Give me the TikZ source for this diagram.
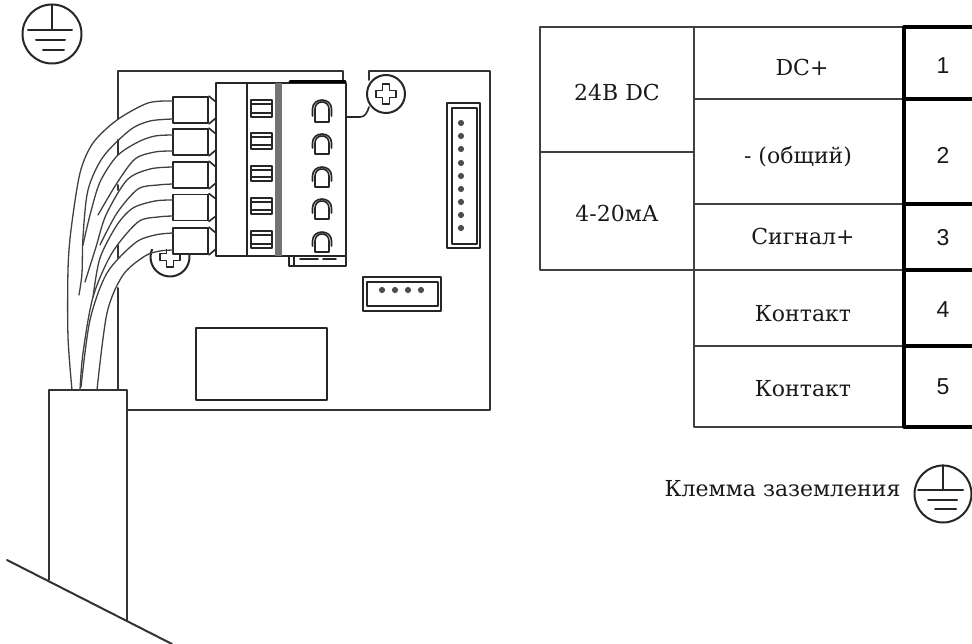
\documentclass[tikz,border=0pt]{standalone}
\usepackage{fontspec}
\setmainfont{DejaVu Serif}
\newfontfamily\numfont{Liberation Sans}
\usetikzlibrary{calc}

\begin{document}
\begin{tikzpicture}[x=1pt, y=-1pt, line cap=round, line join=round]
	\useasboundingbox (0,0) rectangle (972,644);
	\tikzset{
		part/.style={draw=black!85, line width=1.6pt},
		boardline/.style={draw=black!80, line width=2pt},
		wire/.style={draw=black!75, line width=1.3pt},
		thin cell/.style={draw=black!75, line width=1.8pt},
		thick cell/.style={draw=black, line width=3.2pt},
		plug/.style={draw=black!85, line width=1.8pt, fill=white, minimum width=35pt, minimum height=26pt, inner sep=0pt},
		pin/.style={circle, fill=black!70, inner sep=2.2pt},
		lab/.style={text=black!90, font=\fontsize{22}{24}\selectfont},
		numlab/.style={text=black!90, font=\fontsize{23}{26}\selectfont\numfont}
	}

	% --- coordinates of the round parts
	\coordinate (G1) at (52,34);
	\coordinate (G2) at (943,494);
	\coordinate (T1) at (386,94);
	\coordinate (T2) at (170,257);

	\coordinate (D1) at (322,122);
	\coordinate (D2) at (322,154);
	\coordinate (D3) at (322,187);
	\coordinate (D4) at (322,219);
	\coordinate (D5) at (322,252);

	% --- wire ends on the plugs
	\coordinate (W1) at (173,101);
	\coordinate (W2) at (173,119);
	\coordinate (W3) at (173,135);
	\coordinate (W4) at (173,151);
	\coordinate (W5) at (173,167);
	\coordinate (W6) at (173,184);
	\coordinate (W7) at (173,200);
	\coordinate (W8) at (173,216);
	\coordinate (W9) at (173,233);
	\coordinate (W10) at (173,250);

	% --- board outline
	\draw[boardline] (343,82) -- (343,71) -- (118,71) -- (118,119);
	\draw[boardline] (118,140) -- (118,155);
	\draw[boardline] (118,185) -- (118,190);
	\draw[boardline] (118,245) -- (118,258);
	\draw[boardline] (118,288) -- (118,390);
	\draw[boardline] (369,80) -- (369,71) -- (490,71) -- (490,410) -- (128,410);

	% --- lower screw, only its lower part shows
	\begin{scope}
		\clip (140,250) rectangle (200,285);
		\draw[part, line width=2pt] (T2) circle [radius=19.5];
		\draw[part] ($(T2)+(-3.5,-10)$) -- ++(7,0) -- ++(0,6.5) -- ++(6.5,0) -- ++(0,7) -- ++(-6.5,0) -- ++(0,6.5) -- ++(-7,0) -- ++(0,-6.5) -- ++(-6.5,0) -- ++(0,-7) -- ++(6.5,0) -- cycle;
	\end{scope}

	% --- upper screw and its lead
	\draw[part] (346,117) -- (360,117) .. controls (365,117) and (367,113) .. (369,107);
	\draw[part, line width=2pt, fill=white] (T1) circle [radius=19];
	\draw[part] ($(T1)+(-3.5,-10)$) -- ++(7,0) -- ++(0,6.5) -- ++(6.5,0) -- ++(0,7) -- ++(-6.5,0) -- ++(0,6.5) -- ++(-7,0) -- ++(0,-6.5) -- ++(-6.5,0) -- ++(0,-7) -- ++(6.5,0) -- cycle;

	% --- terminal block
	\draw[part, line width=2pt] (216,83) rectangle (346,256);
	\draw[part, line width=2pt] (247,83) -- (247,256);
	\fill[black!55] (275,83) rectangle (282,256);
	\draw[black, line width=3pt] (290,82) -- (345,82);

	\node[plug] (P1) at (190.5,110) {};
	\node[plug] (P2) at (190.5,142) {};
	\node[plug] (P3) at (190.5,175) {};
	\node[plug] (P4) at (190.5,207.5) {};
	\node[plug] (P5) at (190.5,241) {};

	\draw[part] (P1.north east) -- (216,102) (P1.south east) -- (216,118);
	\draw[part] (P2.north east) -- (216,134) (P2.south east) -- (216,150);
	\draw[part] (P3.north east) -- (216,167) (P3.south east) -- (216,183);
	\draw[part] (P4.north east) -- (216,199) (P4.south east) -- (216,216);
	\draw[part] (P5.north east) -- (216,233) (P5.south east) -- (216,249);

	% --- slots
	\draw[part] (251,100) rectangle (272,117) (251,104) -- (272,104) (251,113) -- (272,113);
	\draw[part] (251,133) rectangle (272,149) (251,137) -- (272,137) (251,145) -- (272,145);
	\draw[part] (251,166) rectangle (272,181) (251,170) -- (272,170) (251,177) -- (272,177);
	\draw[part] (251,198) rectangle (272,214) (251,202) -- (272,202) (251,210) -- (272,210);
	\draw[part] (251,231) rectangle (272,248) (251,235) -- (272,235) (251,244) -- (272,244);

	% --- domes
	\draw[part] ($(D1)+(-7,0)$) -- ++(0,-13) .. controls +(0,-9.3) and +(0,-9.3) .. ++(14,0) -- ++(0,13) -- cycle ($(D1)+(-9.5,-6)$) -- ++(0,-7) .. controls +(0,-12) and +(0,-12) .. ++(19,0) -- ++(0,7);
	\draw[part] ($(D2)+(-7,0)$) -- ++(0,-11) .. controls +(0,-9.3) and +(0,-9.3) .. ++(14,0) -- ++(0,11) -- cycle ($(D2)+(-9.5,-6)$) -- ++(0,-5) .. controls +(0,-12) and +(0,-12) .. ++(19,0) -- ++(0,5);
	\draw[part] ($(D3)+(-7,0)$) -- ++(0,-11) .. controls +(0,-9.3) and +(0,-9.3) .. ++(14,0) -- ++(0,11) -- cycle ($(D3)+(-9.5,-6)$) -- ++(0,-5) .. controls +(0,-12) and +(0,-12) .. ++(19,0) -- ++(0,5);
	\draw[part] ($(D4)+(-7,0)$) -- ++(0,-11) .. controls +(0,-9.3) and +(0,-9.3) .. ++(14,0) -- ++(0,11) -- cycle ($(D4)+(-9.5,-6)$) -- ++(0,-5) .. controls +(0,-12) and +(0,-12) .. ++(19,0) -- ++(0,5);
	\draw[part] ($(D5)+(-7,0)$) -- ++(0,-11) .. controls +(0,-9.3) and +(0,-9.3) .. ++(14,0) -- ++(0,11) -- cycle ($(D5)+(-9.5,-6)$) -- ++(0,-5) .. controls +(0,-12) and +(0,-12) .. ++(19,0) -- ++(0,5);

	% --- strip under the block
	\draw[part] (289,256) rectangle (346,266);
	\draw[part] (294,256) -- (294,266);
	\draw[part] (300,259) -- (318,259) (323,259) -- (336,259);

	% --- long connector
	\draw[part, line width=2pt] (447,103) rectangle (480,248);
	\draw[part] (452,108) rectangle (477,244);
	\node[pin] (a1) at (461,123) {};
	\node[pin] (a2) at (461,136) {};
	\node[pin] (a3) at (461,149) {};
	\node[pin] (a4) at (461,163) {};
	\node[pin] (a5) at (461,176) {};
	\node[pin] (a6) at (461,189) {};
	\node[pin] (a7) at (461,202) {};
	\node[pin] (a8) at (461,215) {};
	\node[pin] (a9) at (461,228) {};

	% --- short connector
	\draw[part, line width=2pt] (363,277) rectangle (441,311);
	\draw[part] (367,282) rectangle (438,306);
	\node[pin] (b1) at (382,290) {};
	\node[pin] (b2) at (395,290) {};
	\node[pin] (b3) at (408,290) {};
	\node[pin] (b4) at (421,290) {};

	% --- empty rectangle
	\draw[part, line width=1.9pt] (196,328) rectangle (327,400);

	% --- cable
	\draw[boardline] (49,580) -- (49,390) -- (127,390) -- (127,620);
	\draw[boardline] (7,560) -- (172,644);

	% --- wires
	\draw[wire] plot[smooth] coordinates {(W1) (148,103) (117,120) (93,143) (80,173) (71,230) (68,270) (68,337) (72,390)};
	\draw[wire] plot[smooth] coordinates {(W2) (150,121) (130,130) (103,157) (88,190) (83,237) (82,273) (79,295)};
	\draw[wire] plot[smooth] coordinates {(W3) (155,136) (138,142) (117,156) (100,182) (90,215) (83,245)};
	\draw[wire] plot[smooth] coordinates {(W4) (155,152) (135,159) (117,183) (98,215)};
	\draw[wire] plot[smooth] coordinates {(W5) (150,169) (127,180) (106,215) (96,247) (85,282)};
	\draw[wire] plot[smooth] coordinates {(W6) (158,185) (138,189) (117,213) (100,245)};
	\draw[wire] plot[smooth] coordinates {(W7) (155,201) (133,208) (117,225) (100,258) (93,297)};
	\draw[wire] plot[smooth] coordinates {(W8) (158,217) (138,222) (112,253) (93,297) (83,353) (80,390)};
	\draw[wire] plot[smooth] coordinates {(W9) (155,235) (135,243) (107,273) (90,320) (81,387)};
	\draw[wire] plot[smooth] coordinates {(W10) (160,251) (145,256) (123,275) (107,313) (97,390)};

	% --- earth symbols
	\draw[part, line width=2pt] (G1) circle [radius=29.5];
	\draw[part, line width=2pt] ($(G1)+(0,-29)$) -- ($(G1)+(0,-4)$);
	\draw[part, line width=2pt] ($(G1)+(-24,-4)$) -- ($(G1)+(20,-4)$);
	\draw[part, line width=2pt] ($(G1)+(-16,6)$) -- ($(G1)+(13,6)$);
	\draw[part, line width=2pt] ($(G1)+(-9,16)$) -- ($(G1)+(12,16)$);

	\draw[part, line width=2pt] (G2) circle [radius=28.5];
	\draw[part, line width=2pt] ($(G2)+(0,-29)$) -- ($(G2)+(0,-4)$);
	\draw[part, line width=2pt] ($(G2)+(-25,-4)$) -- ($(G2)+(20,-4)$);
	\draw[part, line width=2pt] ($(G2)+(-15,6)$) -- ($(G2)+(14,6)$);
	\draw[part, line width=2pt] ($(G2)+(-8,15)$) -- ($(G2)+(13,15)$);

	% --- table, thin cells
	\draw[thin cell] (904,27) -- (540,27) -- (540,270) -- (904,270);
	\draw[thin cell] (540,152) -- (694,152);
	\draw[thin cell] (694,27) -- (694,427) -- (904,427);
	\draw[thin cell] (694,99) -- (904,99);
	\draw[thin cell] (694,204) -- (904,204);
	\draw[thin cell] (694,346) -- (904,346);

	% --- table, thick cells
	\draw[thick cell] (972,27) -- (904,27) -- (904,427) -- (972,427);
	\draw[thick cell] (904,99) -- (972,99);
	\draw[thick cell] (904,204) -- (972,204);
	\draw[thick cell] (904,270) -- (972,270);
	\draw[thick cell] (904,346) -- (972,346);

	% --- table texts
	\node[lab] (supply) at (617,92) {24В DC};
	\node[lab] (loop) at (617,213) {4-20мА};
	\node[lab] (dcplus) at (802,67) {DC+};
	\node[lab] (common) at (798,157) {- (общий)};
	\node[lab] (signal) at (803,236) {Сигнал+};
	\node[lab] (contacta) at (803,314) {Контакт};
	\node[lab] (contactb) at (803,389) {Контакт};

	\node[numlab] (n1) at (943,66) {1};
	\node[numlab] (n2) at (943,155) {2};
	\node[numlab] (n3) at (943,238) {3};
	\node[numlab] (n4) at (943,310) {4};
	\node[numlab] (n5) at (943,387) {5};

	\node[lab, anchor=east] (earthlab) at (904,489) {Клемма заземления};
\end{tikzpicture}
\end{document}
